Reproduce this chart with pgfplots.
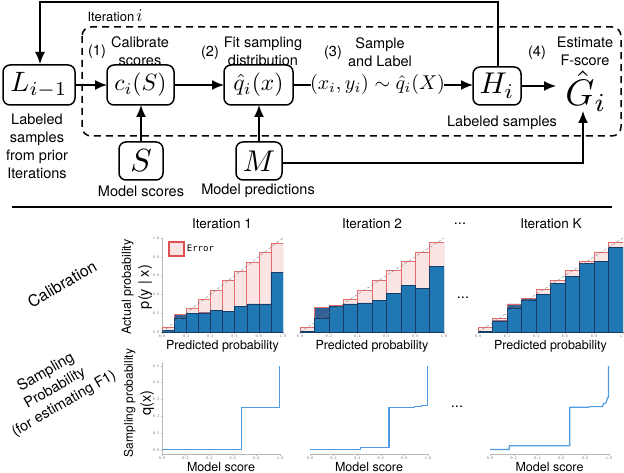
\documentclass[border=0pt]{standalone}
\usepackage{graphicx}
\usepackage{fontspec}
\setmainfont{TeX Gyre Heros}
\newfontfamily\tickfont{DejaVu Sans Mono}
\usepackage{pgfplots}
\usepackage{pgfplotstable}
\pgfplotsset{compat=1.18}
\usetikzlibrary{arrows.meta}
\definecolor{mblue}{RGB}{31,119,180}
\definecolor{pinkf}{RGB}{251,228,228}
\definecolor{rede}{RGB}{228,110,110}
\definecolor{redl}{RGB}{220,80,80}
\definecolor{darkb}{RGB}{52,96,150}
\definecolor{edgeb}{RGB}{25,60,100}
\definecolor{sampblue}{RGB}{80,155,225}

% calibration tables: x (bin centre), b = blue part, p = pink (over-prediction), d = dark (under-prediction)
\pgfplotstableread{
x b p d
0.05 0.014 0.036 0
0.15 0.149 0 0.041
0.25 0.200 0.055 0
0.35 0.205 0.145 0
0.45 0.230 0.217 0
0.55 0.220 0.333 0
0.65 0.273 0.376 0
0.75 0.300 0.445 0
0.85 0.300 0.548 0
0.95 0.638 0.309 0
}\calA
\pgfplotstableread{
x b p d
0.05 0.010 0.040 0
0.15 0.145 0 0.117
0.25 0.273 0.014 0
0.35 0.300 0.044 0
0.45 0.310 0.137 0
0.55 0.333 0.213 0
0.65 0.408 0.244 0
0.75 0.493 0.262 0
0.85 0.465 0.383 0
0.95 0.695 0.259 0
}\calB
\pgfplotstableread{
x b p d
0.05 0.010 0.036 0
0.15 0.120 0.022 0
0.25 0.255 0 0.045
0.35 0.340 0 0.018
0.45 0.404 0.050 0
0.55 0.518 0.032 0
0.65 0.589 0.063 0
0.75 0.730 0.018 0
0.85 0.748 0.100 0
0.95 0.897 0.057 0
}\calC

\pgfplotsset{
  base/.style={scale only axis, axis line style={draw=gray!55, line width=0.4pt},
    tick style={draw=gray!55, line width=0.3pt}, major tick length=1.5pt, tick align=outside,
    ticklabel style={font=\tickfont\fontsize{3.5}{4}\selectfont, text=gray, inner sep=1pt},
    xtick={0,0.2,0.4,0.6,0.8,1},
    xticklabel={\pgfmathprintnumber[fixed,fixed zerofill,precision=1,assume math mode=true]{\tick}},
    yticklabel={\pgfmathprintnumber[fixed,fixed zerofill,precision=1,assume math mode=true]{\tick}},
    xmin=0, xmax=1, anchor=south west,
    xlabel style={at={(axis description cs:0.5,0)}, anchor=base, font=\fontsize{12.5}{14}\selectfont},
  },
  calib/.style={base, height=94pt, ymin=0, ymax=1, ybar stacked, bar width=0.1,
    axis x line*=bottom, axis y line*=left, xlabel={Predicted probability},
    xlabel style={yshift=-17pt}},
  over/.style={scale only axis, anchor=south west, height=94pt, xmin=0, xmax=1, ymin=0, ymax=1, hide axis},
  samp/.style={base, height=92.4pt, ymin=-0.025, ymax=0.525, axis x line*=bottom, axis y line*=left,
    xlabel={Model score}, xlabel style={yshift=-17.5pt}},
  bblue/.style={fill=mblue, draw=edgeb, line width=0.4pt},
  bpink/.style={fill=pinkf, draw=rede, line width=0.6pt},
  bdark/.style={fill=darkb, draw=rede, line width=0.6pt},
  diag/.style={gray, densely dashed, line width=0.4pt},
  sline/.style={draw=sampblue, fill=none, line width=1.2pt, line join=round, mark=none},
}

\begin{document}
\begin{tikzpicture}[x=1pt,y=-1pt, font=\fontsize{14.5}{18}\selectfont]
\path[use as bounding box] (0,0) rectangle (624,473);
\tikzset{bx/.style={draw, line width=1.5pt, rounded corners=7pt, inner sep=0pt},
  arr/.style={line width=1.5pt, -{Latex[length=12pt,width=10pt]}}}

% ---------- diagram ----------
\draw[line width=1.5pt, dash pattern=on 7pt off 5pt, rounded corners=9pt] (82,27) rectangle (621,136);
\node[bx, minimum width=72pt, minimum height=40pt] (L) at (39,85) {\fontsize{10}{12}\selectfont\scalebox{2.8}{$L_{i-1}$}};
\node[bx, minimum width=67pt, minimum height=40pt] (C) at (140.5,85) {\fontsize{10}{12}\selectfont\scalebox{2.35}{$c_i(S)$}};
\node[bx, minimum width=69pt, minimum height=40pt] (Q) at (258.5,85) {\fontsize{10}{12}\selectfont\scalebox{2.35}{$\hat{q}_i(x)$}};
\node[bx, minimum width=44pt, minimum height=38pt] (S) at (141,161) {\fontsize{10}{12}\selectfont\scalebox{3.2}{$S$}};
\node[bx, minimum width=46pt, minimum height=38pt] (M) at (259,161) {\fontsize{10}{12}\selectfont\scalebox{3.0}{$M$}};
\node[bx, minimum width=48pt, minimum height=38pt] (H) at (497,86) {\fontsize{10}{12}\selectfont\scalebox{3.0}{$H_i$}};
\node at (586,91) {\fontsize{10}{12}\selectfont\scalebox{3.7}{$\hat{G}_i$}};
\node at (377.5,85) {\fontsize{10}{12}\selectfont\scalebox{2.0}{$(x_i,y_i)\sim\hat{q}_i(X)$}};
\draw[arr] (75,85) -- (107,85);
\draw[arr] (174,85) -- (224,85);
\draw[line width=1.5pt] (293,85) -- (311,85);
\draw[arr] (444,85) -- (473,85);
\draw[arr] (521,86) -- (556,86);
\draw[arr] (141,142) -- (141,105);
\draw[arr] (259,142) -- (259,105);
\draw[arr] (282,163) -- (583,163) -- (583,111);
\draw[arr] (498,67) -- (498,2) -- (40,2) -- (40,64);

\node[anchor=west] at (84,16) {\fontsize{13}{14}\selectfont Iteration\,\fontsize{10}{12}\selectfont\scalebox{1.8}{$i$}};
\node at (97,52) {(1)};
\node[align=center] at (140,51) {Calibrate\\scores};
\node at (210,53) {(2)};
\node[align=center] at (263,51) {Fit sampling\\distribution};
\node at (333,53) {(3)};
\node[align=center] at (380,52) {Sample\\and Label};
\node at (537,53) {(4)};
\node[align=center] at (585,51) {Estimate\\F-score};
\node at (502,123) {Labeled samples};
\node[align=center] at (37,146) {\fontsize{14.5}{17.7}\selectfont Labeled\\samples\\from prior\\Iterations};
\node at (141,191) {Model scores};
\node at (258,191) {Model predictions};

\draw[line width=1.5pt] (12,207) -- (612,207);

% ---------- row titles and axis titles ----------
\node at (222,224) {\fontsize{13.5}{15}\selectfont Iteration 1};
\node at (372,224) {\fontsize{13.5}{15}\selectfont Iteration 2};
\node at (551,224) {\fontsize{13.5}{15}\selectfont Iteration K};
\node at (460,224) {...};
\node at (463,298) {...};
\node at (457,407) {...};
\node[rotate=30] at (62,284) {\fontsize{16}{18}\selectfont Calibration};
\node[rotate=30, align=center] at (55,388) {\fontsize{15}{17}\selectfont Sampling\\Probability\\(for estimating F1)};
\node[rotate=90, align=center] at (137,287) {\fontsize{12.5}{13.5}\selectfont Actual probability\\p(y | x)};
\node[rotate=90, align=center] at (139,403) {\fontsize{12}{13.5}\selectfont Sampling probability\\q(x)};

% ---------- calibration plots ----------
\begin{axis}[calib, at={(162pt,-332pt)}, width=121pt, ytick={0,0.2,0.4,0.6,0.8,1}]
\addplot[bblue] table[x=x,y=b] {\calA};
\addplot[bpink] table[x=x,y=p] {\calA};
\addplot[bdark] table[x=x,y=d] {\calA};
\end{axis}
\begin{axis}[over, at={(162pt,-332pt)}, width=121pt,
  legend style={at={(axis description cs:0.05,0.965)}, anchor=north west, draw=none, fill=none,
    font=\tickfont\fontsize{9}{10}\selectfont, inner sep=0pt}, legend cell align=left]
\addlegendimage{legend image code/.code={\draw[fill=pinkf, draw=redl, line width=1.6pt] (0pt,-7pt) rectangle (15pt,7pt);}}
\addlegendentry{Error}
\addplot[diag, forget plot] coordinates {(0,0) (1,1)};
\end{axis}

\begin{axis}[calib, at={(300pt,-332pt)}, width=144pt, hide y axis]
\addplot[bblue] table[x=x,y=b] {\calB};
\addplot[bpink] table[x=x,y=p] {\calB};
\addplot[bdark] table[x=x,y=d] {\calB};
\end{axis}
\begin{axis}[over, at={(300pt,-332pt)}, width=144pt]
\addplot[diag] coordinates {(0,0) (1,1)};
\end{axis}

\begin{axis}[calib, at={(478pt,-332pt)}, width=145pt, hide y axis]
\addplot[bblue] table[x=x,y=b] {\calC};
\addplot[bpink] table[x=x,y=p] {\calC};
\addplot[bdark] table[x=x,y=d] {\calC};
\end{axis}
\begin{axis}[over, at={(478pt,-332pt)}, width=145pt]
\addplot[diag] coordinates {(0,0) (1,1)};
\end{axis}

% ---------- sampling plots ----------
\begin{axis}[samp, at={(162pt,-454pt)}, width=118pt, ytick={0,0.1,0.2,0.3,0.4,0.5}]
\addplot[sline] coordinates {(0,0.001) (0.675,0.001) (0.675,0.25) (0.997,0.25) (0.997,0.5)};
\end{axis}
\begin{axis}[samp, at={(310pt,-454pt)}, width=118pt, hide y axis]
\addplot[sline] coordinates {(0,0.002) (0.425,0.002) (0.425,0.016) (0.670,0.016) (0.670,0.251) (0.887,0.251) (0.887,0.257) (0.944,0.257) (0.944,0.263) (0.997,0.263) (0.997,0.5)};
\end{axis}
\begin{axis}[samp, at={(490pt,-454pt)}, width=119pt, hide y axis]
\addplot[sline] coordinates {(0,0.002) (0.162,0.002) (0.162,0.024) (0.670,0.024) (0.670,0.253) (0.832,0.253) (0.832,0.257) (0.944,0.257) (0.955,0.275) (0.975,0.28) (0.988,0.31) (0.995,0.31) (0.995,0.5)};
\end{axis}
\end{tikzpicture}
\end{document}
